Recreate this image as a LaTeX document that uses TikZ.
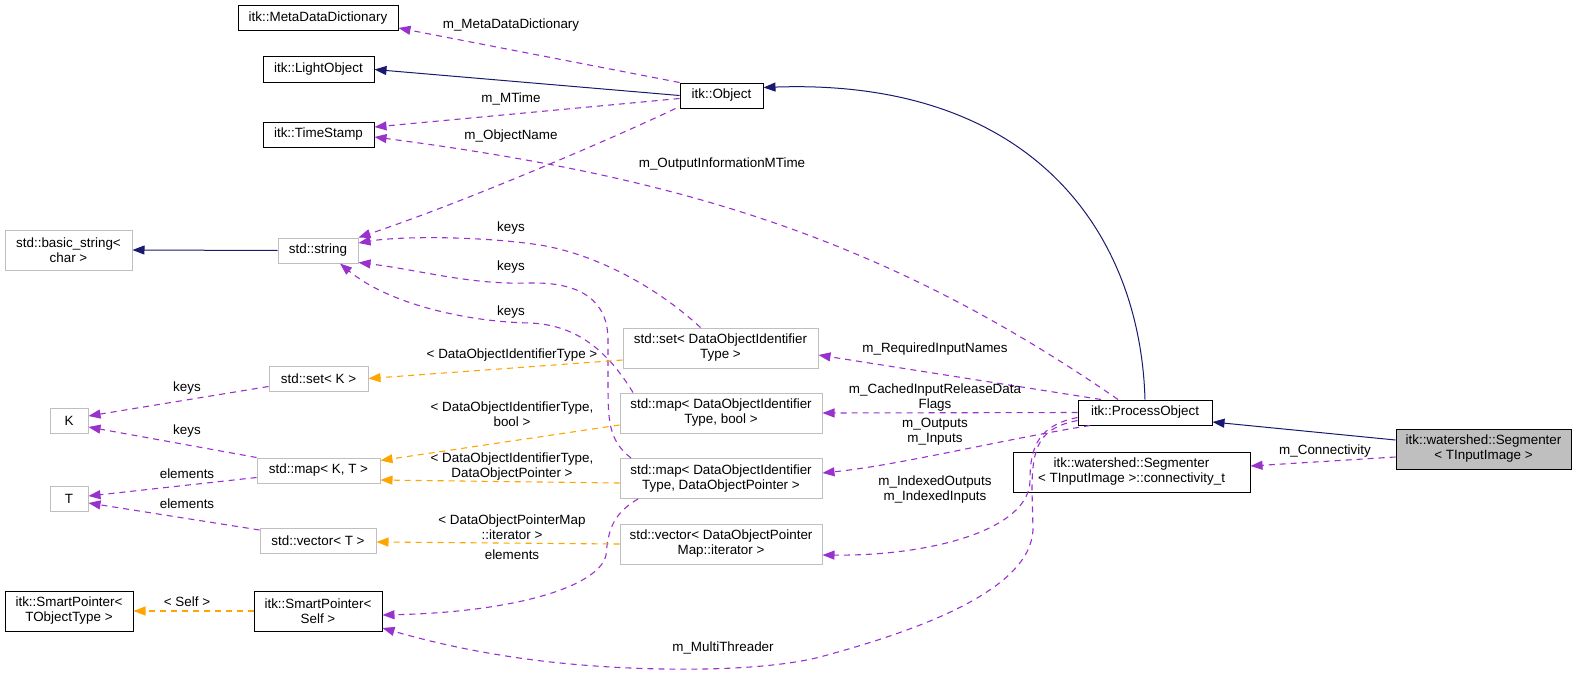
\documentclass[tikz,border=0pt]{standalone}
\usepackage{fontspec}
\setmainfont{Liberation Sans}
\usepackage{tikz}
\usetikzlibrary{arrows.meta,calc}
\definecolor{cnavy}{RGB}{25,25,112}
\definecolor{cpurple}{RGB}{153,50,204}
\definecolor{corange}{RGB}{255,165,0}
\definecolor{cgrayb}{RGB}{191,191,191}
\definecolor{cgrayf}{RGB}{191,191,191}
\newcommand\dxfont{\fontsize{13.4}{15}\selectfont}
\tikzset{
  cls/.style={
    rectangle, draw=black, line width=1pt, fill=white,
    minimum height=25pt, inner sep=0pt,
    font=\dxfont, align=center
  },
  extcls/.style={
    cls, draw=cgrayb
  },
  curcls/.style={
    cls, fill=cgrayf
  },
  tall/.style={minimum height=40pt},
  lbl/.style={font=\dxfont, align=center, inner sep=0pt},
  inh/.style={-{Triangle[length=12pt,width=9pt]}, line width=1pt, draw=cnavy},
  usg/.style={inh, line width=1.1pt, draw=cpurple, dash pattern=on 6pt off 5pt},
  tpl/.style={usg, draw=corange}
}
\begin{document}
\begin{tikzpicture}[x=1pt,y=-1pt]
    \useasboundingbox (0,0) rectangle (1576,677);

    %% ---- class boxes -----------------------------------------------
    \node[cls, minimum width=160pt] (mdd)    at (318,18)    {itk::MetaDataDictionary};
    \node[cls, minimum width=111pt] (lobj)   at (318.5,69.5) {itk::LightObject};
    \node[cls, minimum width=111pt] (tstamp) at (318.5,134.5) {itk::TimeStamp};
    \node[cls, minimum width=83pt]  (obj)    at (721.5,95.5) {itk::Object};
    \node[extcls, tall, minimum width=127pt] (bstr) at (68.5,250) {std::basic\_string<\\char >};
    \node[extcls, minimum width=80pt]  (sstr)  at (318,250.5) {std::string};
    \node[extcls, minimum width=99pt]  (setk)  at (318.5,378.5) {std::set< K >};
    \node[extcls, minimum width=38pt]  (nk)    at (69,421)    {K};
    \node[extcls, minimum width=123pt] (mapkt) at (318.5,470.5) {std::map< K, T >};
    \node[extcls, minimum width=38pt]  (nt)    at (69,498.5)  {T};
    \node[extcls, minimum width=116pt] (vect)  at (318,541)   {std::vector< T >};
    \node[cls, tall, minimum width=128pt] (sptot)  at (69,611)  {itk::SmartPointer<\\TObjectType >};
    \node[cls, tall, minimum width=128pt] (spself) at (318,611) {itk::SmartPointer<\\Self >};
    \node[extcls, tall, minimum width=195pt] (setdo)   at (720.5,348) {std::set< DataObjectIdentifier\\Type >};
    \node[extcls, tall, minimum width=202pt] (mapbool) at (721,413)   {std::map< DataObjectIdentifier\\Type, bool >};
    \node[extcls, tall, minimum width=202pt] (mapdop)  at (721,478.5) {std::map< DataObjectIdentifier\\Type, DataObjectPointer >};
    \node[extcls, tall, minimum width=202pt] (vecdop)  at (721,544)   {std::vector< DataObjectPointer\\Map::iterator >};
    \node[cls, minimum width=134pt] (po)   at (1145,412.5) {itk::ProcessObject};
    \node[cls, tall, minimum width=237pt] (conn) at (1131.5,472) {itk::watershed::Segmenter\\< TInputImage >::connectivity\_t};
    \node[curcls, tall, minimum width=175pt] (seg) at (1483.5,449) {itk::watershed::Segmenter\\< TInputImage >};

    %% ---- inheritance -----------------------------------------------
    \draw[inh] (obj.west) -- (lobj.east);
    \draw[inh] (sstr.west) -- (bstr.east);
    \draw[inh] (po.north) .. controls (1140,230) and (1030,78) .. ([yshift=8pt]obj.east);
    \draw[inh] ([yshift=9pt]seg.west) -- ([yshift=-9.5pt]po.east);

    %% ---- members ---------------------------------------------------
    \draw[usg] (obj.north west) -- ([yshift=3pt]mdd.south east);
    \draw[usg] ([yshift=-3pt]obj.west) -- ([yshift=7.5pt]tstamp.east);
    \draw[usg] ([xshift=-27pt]po.north) .. controls (880,235) and (672,176) .. ([yshift=-2.5pt]tstamp.east);
    \draw[usg] ([xshift=-4pt]obj.south west) .. controls (620,135) and (470,200) .. (sstr.north east);
    \draw[usg] ([xshift=-20pt]setdo.north) .. controls (660,290) and (600,255) .. (540,245)
      .. controls (480,236) and (400,236) .. ([yshift=7.5pt]sstr.east);
    \draw[usg] ([xshift=-88pt]mapbool.north) .. controls (610,355) and (580,325) .. (530,323)
      .. controls (470,322) and (390,305) .. ([xshift=22pt]sstr.south);
    \draw[usg] ([xshift=-90pt]mapdop.north) .. controls (608,440) and (608,420) .. (608,380)
      -- (608,340) .. controls (608,300) and (580,282) .. (530,283)
      .. controls (470,285) and (420,270) .. ([yshift=-12pt]sstr.east);
    \draw[usg] ([yshift=-8pt]setk.west) -- ([yshift=5pt]nk.east);
    \draw[usg] ([yshift=13pt]mapkt.west) -- ([yshift=-6pt]nk.east);
    \draw[usg] ([yshift=-7pt]mapkt.west) -- ([yshift=2.5pt]nt.east);
    \draw[usg] ([yshift=11pt]vect.west) -- ([yshift=-4.5pt]nt.east);
    \draw[usg] ([xshift=-44pt]po.north) -- ([yshift=-7pt]setdo.east);
    \draw[usg] (po.west) -- (mapbool.east);
    \draw[usg] ([xshift=-55pt]po.south) .. controls (1000,440) and (900,465) .. ([yshift=5.5pt]mapdop.east);
    \draw[usg] ([yshift=-5pt]po.west) .. controls (1040,425) and (1030,445) .. (1030,480)
      .. controls (1030,530) and (930,556) .. ([yshift=-11pt]vecdop.east);
    \draw[usg] ([yshift=-8pt]po.west) .. controls (1040,428) and (1032,445) .. (1032,490)
      -- (1033,530) .. controls (1030,590) and (920,630) .. (820,657)
      .. controls (750,675) and (600,672) .. (500,655)
      .. controls (450,647) and (410,636) .. ([yshift=-17pt]spself.east);
    \draw[usg] ([xshift=-83pt]mapdop.south) .. controls (610,515) and (608,535) .. (606,555)
      .. controls (600,585) and (520,612) .. ([yshift=-4pt]spself.east);
    \draw[usg] ([yshift=-8pt]seg.west) -- ([yshift=6pt]conn.east);

    %% ---- template instances ----------------------------------------
    \draw[tpl] ([yshift=-12pt]setdo.west) -- (setk.east);
    \draw[tpl] ([yshift=-12pt]mapbool.west) -- ([yshift=10pt]mapkt.east);
    \draw[tpl] ([yshift=-4.5pt]mapdop.west) -- ([yshift=-9.5pt]mapkt.east);
    \draw[tpl] (vecdop.west) -- ([yshift=-1pt]vect.east);
    \draw[tpl] (spself.west) -- (sptot.east);

    %% ---- edge labels -----------------------------------------------
    \node[lbl] (l1)  at (511,25)  {m\_MetaDataDictionary};
    \node[lbl] (l2)  at (511,99)  {m\_MTime};
    \node[lbl] (l3)  at (511,136) {m\_ObjectName};
    \node[lbl] (l4)  at (722,164) {m\_OutputInformationMTime};
    \node[lbl] (l5)  at (511,228) {keys};
    \node[lbl] (l6)  at (511,267) {keys};
    \node[lbl] (l7)  at (511,312) {keys};
    \node[lbl] (l8)  at (512,355) {< DataObjectIdentifierType >};
    \node[lbl] (l9)  at (512,414) {< DataObjectIdentifierType,\\bool >};
    \node[lbl] (l10) at (512,467) {< DataObjectIdentifierType,\\DataObjectPointer >};
    \node[lbl] (l11) at (512,527) {< DataObjectPointerMap\\::iterator >};
    \node[lbl] (l12) at (512,555) {elements};
    \node[lbl] (l13) at (723,648) {m\_MultiThreader};
    \node[lbl] (l14) at (187,388) {keys};
    \node[lbl] (l15) at (187,431) {keys};
    \node[lbl] (l16) at (187,474) {elements};
    \node[lbl] (l17) at (187,504) {elements};
    \node[lbl] (l18) at (187,602) {< Self >};
    \node[lbl] (l19) at (935,349) {m\_RequiredInputNames};
    \node[lbl] (l20) at (935,397.5) {m\_CachedInputReleaseData\\Flags};
    \node[lbl] (l21) at (935,431.5) {m\_Outputs\\m\_Inputs};
    \node[lbl] (l22) at (935,490) {m\_IndexedOutputs\\m\_IndexedInputs};
    \node[lbl] (l23) at (1325,451) {m\_Connectivity};

  \end{tikzpicture}
\end{document}
